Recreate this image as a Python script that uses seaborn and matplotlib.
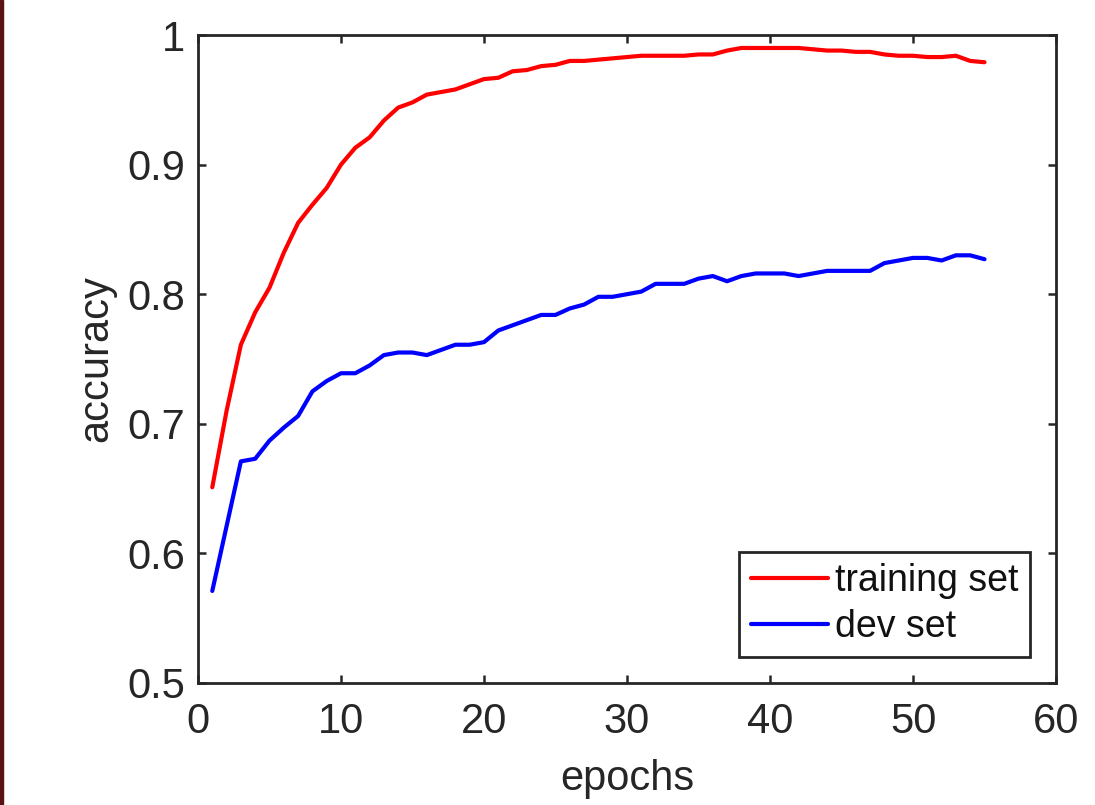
import numpy as np
import pandas as pd
import matplotlib
matplotlib.use("Agg")
import matplotlib.pyplot as plt
import seaborn as sns
from matplotlib.patches import Rectangle

# === data ===
epochs = list(range(1, 56))
training_acc = [
    0.651, 0.710, 0.761, 0.786, 0.805, 0.832, 0.855, 0.869, 0.882, 0.900,
    0.913, 0.921, 0.934, 0.944, 0.948, 0.954, 0.956, 0.958, 0.962, 0.966,
    0.967, 0.972, 0.973, 0.976, 0.977, 0.980, 0.980, 0.981, 0.982, 0.983,
    0.984, 0.984, 0.984, 0.984, 0.985, 0.985, 0.988, 0.990, 0.990, 0.990,
    0.990, 0.990, 0.989, 0.988, 0.988, 0.987, 0.987, 0.985, 0.984, 0.984,
    0.983, 0.983, 0.984, 0.980, 0.979,
]
dev_acc = [
    0.571, 0.621, 0.671, 0.673, 0.687, 0.697, 0.706, 0.725, 0.733, 0.739,
    0.739, 0.745, 0.753, 0.755, 0.755, 0.753, 0.757, 0.761, 0.761, 0.763,
    0.772, 0.776, 0.780, 0.784, 0.784, 0.789, 0.792, 0.798, 0.798, 0.800,
    0.802, 0.808, 0.808, 0.808, 0.812, 0.814, 0.810, 0.814, 0.816, 0.816,
    0.816, 0.814, 0.816, 0.818, 0.818, 0.818, 0.818, 0.824, 0.826, 0.828,
    0.828, 0.826, 0.830, 0.830, 0.827,
]
series_names = ["training set", "dev set"]
series_colors = ["#ff0000", "#0000ff"]
x_ticks = [0, 10, 20, 30, 40, 50, 60]
y_ticks = [0.5, 0.6, 0.7, 0.8, 0.9, 1.0]
y_tick_labels = ["0.5", "0.6", "0.7", "0.8", "0.9", "1"]

df = pd.DataFrame({
    "epochs": epochs * 2,
    "accuracy": training_acc + dev_acc,
    "set": [series_names[0]] * len(epochs) + [series_names[1]] * len(epochs),
})

# === style ===
sns.set_style("ticks")
plt.rcParams["font.family"] = ["Liberation Sans", "DejaVu Sans"]
dark = "#262626"

fig = plt.figure(figsize=(10.95, 8.05), dpi=100)
ax = fig.add_axes([0.1808, 0.1516, 0.7836, 0.8049])

sns.lineplot(data=df, x="epochs", y="accuracy", hue="set",
             palette=dict(zip(series_names, series_colors)),
             linewidth=3, ax=ax)

ax.set_xlim(0, 60)
ax.set_ylim(0.5, 1.0)
ax.set_xticks(x_ticks)
ax.set_yticks(y_ticks)
ax.set_yticklabels(y_tick_labels)
ax.tick_params(direction="in", length=6, width=1.8, colors=dark,
               labelsize=30, top=True, right=True)
ax.tick_params(axis="x", pad=14)
ax.tick_params(axis="y", pad=9)
for sp in ax.spines.values():
    sp.set_visible(True)
    sp.set_linewidth(2)
    sp.set_color(dark)

ax.set_xlabel("epochs", fontsize=30, color=dark, labelpad=12)
ax.set_ylabel("accuracy", fontsize=30, color=dark, labelpad=8)

leg = ax.legend(loc="lower right", fontsize=27, frameon=True, fancybox=False,
                handlelength=2.05, handletextpad=0.2, labelspacing=0.28,
                borderaxespad=0.7, borderpad=0.3)
leg.get_frame().set_edgecolor(dark)
leg.get_frame().set_linewidth(2)
leg.get_frame().set_alpha(1)
for t in leg.get_texts():
    t.set_color("#111111")

# dark red strip along the left edge of the picture
fig.patches.append(Rectangle((0, 0), 0.0025, 1, transform=fig.transFigure,
                             color="#5a1212", zorder=10))

fig.savefig("out.png", dpi=100)
